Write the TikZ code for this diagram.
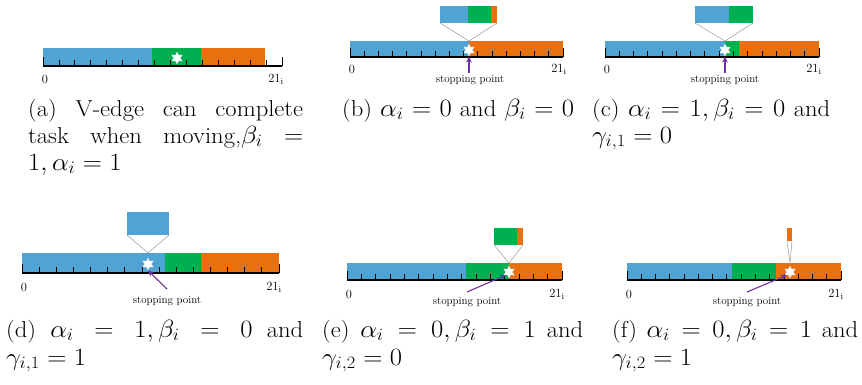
\documentclass[tikz,border=0pt]{standalone}
\usepackage{graphicx}
\usetikzlibrary{shapes.geometric,arrows.meta}
\definecolor{barblue}{RGB}{80,164,212}
\definecolor{bargreen}{RGB}{0,176,80}
\definecolor{barorange}{RGB}{232,112,14}
\definecolor{arrpurple}{RGB}{112,48,160}
\tikzset{
  axisline/.style={line width=1.3pt,black},
  tickline/.style={line width=0.8pt,black},
  guide/.style={draw=gray!80,line width=0.5pt},
  starnode/.style={star,star points=6,star point ratio=1.9,fill=white,draw=gray!30,line width=0.2pt,minimum size=12.5pt,inner sep=0pt},
  spointer/.style={draw=arrpurple,line width=1.1pt,-{Stealth[length=6pt,width=5.5pt]}},
  splabel/.style={font=\fontsize{11}{13}\selectfont,inner sep=0pt},
  numlabel/.style={font=\fontsize{12.5}{14}\selectfont,inner sep=0pt},
  caption/.style={font=\fontsize{23}{27}\selectfont,inner sep=0pt,anchor=base west},
}
\newcommand\tickaxis[4]{%
  \draw[axisline] (#1,#4) -- (#2,#4);
  \foreach \k in {1,...,14}{\draw[tickline] ({#1+(#2-#1)*\k/15},#4) -- ++(0,-6);}
  \draw[tickline] (#1,#4) -- ++(0,-9);
  \draw[tickline] (#2,#4) -- ++(0,-9);
}
% justified caption line: target width in px, text
\newcommand\capjust[2]{\scalebox{1.07}[1]{\makebox[\dimexpr #1pt*100/107\relax][s]{#2}}}
\newcommand\capnat[1]{\scalebox{1.07}[1]{#1}}
\begin{document}
\begin{tikzpicture}[x=1pt,y=-1pt]
\useasboundingbox[fill=white] (0,0) rectangle (862,384);

% ---------- (a)
\fill[barblue] (43,48) rectangle (152,66);
\fill[bargreen] (152,48) rectangle (201,66);
\fill[barorange] (201,48) rectangle (265,66);
\tickaxis{43}{282}{48}{66}
\node[starnode] (sa) at (177,58) {};
\node[numlabel] (za) at (45,79) {0};
\node[numlabel] (ea) at (276,79) {21$_{\mathrm{i}}$};

% ---------- (b)
\fill[barblue] (350,41) rectangle (469,57);
\fill[barorange] (469,41) rectangle (563,57);
\tickaxis{350}{563}{41}{57}
\fill[barblue] (440,6) rectangle (468,23);
\fill[bargreen] (468,6) rectangle (491,23);
\fill[barorange] (491,6) rectangle (497,23);
\coordinate (bl) at (440,23); \coordinate (br) at (497,23); \coordinate (bt) at (469,41);
\draw[guide] (bl) -- (bt) -- (br);
\node[starnode] (sb) at (469,50) {};
\node[numlabel] (zb) at (352,69) {0};
\node[numlabel] (eb) at (559,69) {21$_{\mathrm{i}}$};
\node[splabel] (pb) at (470,80) {stopping point};
\coordinate (pbs) at (469,73);
\draw[spointer] (pbs) -- (sb.south);

% ---------- (c)
\fill[barblue] (605,41) rectangle (725,57);
\fill[bargreen] (725,41) rectangle (739,57);
\fill[barorange] (739,41) rectangle (819,57);
\tickaxis{605}{819}{41}{57}
\fill[barblue] (695,6) rectangle (729,23);
\fill[bargreen] (729,6) rectangle (753,23);
\coordinate (cl) at (695,23); \coordinate (cr) at (753,23); \coordinate (ct) at (725,41);
\draw[guide] (cl) -- (ct) -- (cr);
\node[starnode] (sc) at (725,50) {};
\node[numlabel] (zc) at (607,69) {0};
\node[numlabel] (ec) at (814,69) {21$_{\mathrm{i}}$};
\node[splabel] (pc) at (725,80) {stopping point};
\coordinate (pcs) at (725,73);
\draw[spointer] (pcs) -- (sc.south);

% ---------- (d)
\fill[barblue] (22,253) rectangle (165,273);
\fill[bargreen] (165,253) rectangle (201,273);
\fill[barorange] (201,253) rectangle (279,273);
\tickaxis{22}{279}{253}{273}
\fill[barblue] (127,212) rectangle (169,235);
\coordinate (dl) at (127,235); \coordinate (dr) at (169,235); \coordinate (dt) at (148,253);
\draw[guide] (dl) -- (dt) -- (dr);
\node[starnode] (sd) at (148,264) {};
\node[numlabel] (zd) at (24,287) {0};
\node[numlabel] (ed) at (274,287) {21$_{\mathrm{i}}$};
\node[splabel] (pd) at (167,301) {stopping point};
\coordinate (pds) at (167,289);
\draw[spointer] (pds) -- (sd.south);

% ---------- (e)
\fill[barblue] (347,263) rectangle (466,280);
\fill[bargreen] (466,263) rectangle (509,280);
\fill[barorange] (509,263) rectangle (562,280);
\tickaxis{347}{562}{263}{280}
\fill[bargreen] (494,228) rectangle (517,245);
\fill[barorange] (517,228) rectangle (523,245);
\coordinate (el) at (494,245); \coordinate (er) at (523,245); \coordinate (et) at (509,263);
\draw[guide] (el) -- (et) -- (er);
\node[starnode] (se) at (509,272) {};
\node[numlabel] (ze) at (349,294) {0};
\node[numlabel] (ee) at (557,294) {21$_{\mathrm{i}}$};
\node[splabel] (pe) at (467,302) {stopping point};
\coordinate (pes) at (467,292);
\draw[spointer] (pes) -- (se.south west);

% ---------- (f)
\fill[barblue] (627,263) rectangle (732,280);
\fill[bargreen] (732,263) rectangle (776,280);
\fill[barorange] (776,263) rectangle (841,280);
\tickaxis{627}{841}{263}{280}
\fill[barorange] (787,228) rectangle (792,241);
\coordinate (fl) at (787,241); \coordinate (fr) at (792,241); \coordinate (ft) at (790,263);
\draw[guide] (fl) -- (ft) -- (fr);
\node[starnode] (sf) at (790,272) {};
\node[numlabel] (zf) at (629,294) {0};
\node[numlabel] (ef) at (836,294) {21$_{\mathrm{i}}$};
\node[splabel] (pf) at (747,302) {stopping point};
\coordinate (pfs) at (747,292);
\draw[spointer] (pfs) -- (sf.south west);

% ---------- captions
\node[caption] (ca1) at (28,116) {\capjust{275}{(a) V-edge can complete}};
\node[caption] (ca2) at (28,143) {\capjust{275}{task when moving,$\beta_i$ $=$}};
\node[caption] (ca3) at (28,170) {\capnat{$1,\alpha_i=1$}};
\node[caption] (cb1) at (342,116) {\capjust{232}{(b) $\alpha_i=0$ and $\beta_i=0$}};
\node[caption] (cc1) at (592,116) {\capjust{238}{(c) $\alpha_i=1,\beta_i=0$ and}};
\node[caption] (cc2) at (592,143) {\capnat{$\gamma_{i,1}=0$}};
\node[caption] (cd1) at (6,337) {\capjust{297}{(d) $\alpha_i=1,\beta_i=0$ and}};
\node[caption] (cd2) at (6,365) {\capnat{$\gamma_{i,1}=1$}};
\node[caption] (ce1) at (322,337) {\capjust{261}{(e) $\alpha_i=0,\beta_i=1$ and}};
\node[caption] (ce2) at (322,365) {\capnat{$\gamma_{i,2}=0$}};
\node[caption] (cf1) at (612,337) {\capjust{246}{(f) $\alpha_i=0,\beta_i=1$ and}};
\node[caption] (cf2) at (612,365) {\capnat{$\gamma_{i,2}=1$}};
\end{tikzpicture}
\end{document}
